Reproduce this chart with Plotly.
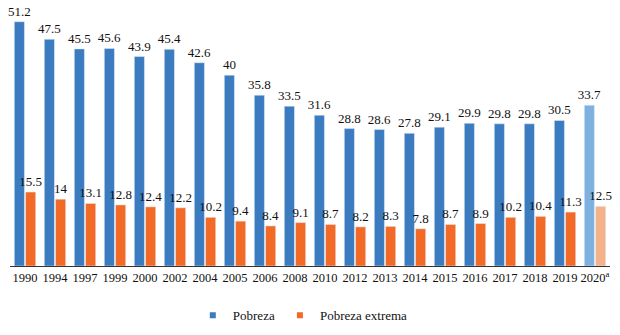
import plotly.graph_objects as go

years = ["1990", "1994", "1997", "1999", "2000", "2002", "2004", "2005", "2006", "2008",
         "2010", "2012", "2013", "2014", "2015", "2016", "2017", "2018", "2019", "2020<sup>a</sup>"]
pobreza = [51.2, 47.5, 45.5, 45.6, 43.9, 45.4, 42.6, 40, 35.8, 33.5,
           31.6, 28.8, 28.6, 27.8, 29.1, 29.9, 29.8, 29.8, 30.5, 33.7]
extrema = [15.5, 14, 13.1, 12.8, 12.4, 12.2, 10.2, 9.4, 8.4, 9.1,
           8.7, 8.2, 8.3, 7.8, 8.7, 8.9, 10.2, 10.4, 11.3, 12.5]
series_names = ["Pobreza", "Pobreza extrema"]

BLUE, BLUE_L = "#3B7BC0", "#7FB1E0"
ORANGE, ORANGE_L = "#F26A25", "#F4B28A"
blue_colors = [BLUE] * (len(years) - 1) + [BLUE_L]
orange_colors = [ORANGE] * (len(years) - 1) + [ORANGE_L]

fmt = lambda v: f"{v:g}"
font = "Liberation Serif"

fig = go.Figure()
fig.add_trace(go.Bar(name=series_names[0], x=years, y=pobreza, marker_color=blue_colors,
                     text=[fmt(v) for v in pobreza], textposition="outside",
                     constraintext="none", cliponaxis=False, showlegend=False,
                     textfont=dict(size=13, color="#111", family=font)))
fig.add_trace(go.Bar(name=series_names[1], x=years, y=extrema, marker_color=orange_colors,
                     text=[fmt(v) for v in extrema], textposition="outside",
                     constraintext="none", cliponaxis=False, showlegend=False,
                     textfont=dict(size=13, color="#111", family=font)))
# legend entries with small square swatches
for name, col in zip(series_names, [BLUE, ORANGE]):
    fig.add_trace(go.Scatter(name=name, x=[None], y=[None], mode="markers",
                             marker=dict(symbol="square", size=6, color=col),
                             showlegend=True, hoverinfo="skip"))

fig.update_layout(
    width=620, height=335,
    margin=dict(l=10, r=10, t=5, b=65),
    paper_bgcolor="white", plot_bgcolor="white",
    barmode="group", bargap=0.25, bargroupgap=0.1,
    font=dict(family=font, size=12, color="#111"),
    legend=dict(orientation="h", x=0.488, xanchor="center", y=-0.189, yanchor="middle",
                font=dict(size=13, family=font), itemwidth=30),
    showlegend=True,
)
fig.update_xaxes(showline=True, linecolor="#333", linewidth=1, ticks="",
                 tickfont=dict(size=12.5, family=font), showgrid=False, automargin=False)
fig.update_yaxes(range=[0, 54.7], visible=False, showgrid=False)

fig.write_html("out.html", config={"displayModeBar": False},
               post_script="document.body.style.margin='0';")
